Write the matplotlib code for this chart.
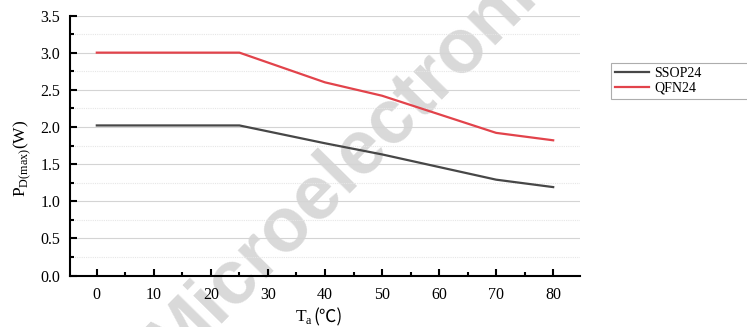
import matplotlib
matplotlib.use("Agg")
import matplotlib.pyplot as plt
from matplotlib.ticker import MultipleLocator, FuncFormatter

temps = [0, 25, 40, 50, 60, 70, 80]
ssop24 = [2.02, 2.02, 1.78, 1.63, 1.46, 1.29, 1.19]
qfn24 = [3.00, 3.00, 2.60, 2.42, 2.17, 1.92, 1.82]
series_names = ["SSOP24", "QFN24"]

plt.rcParams['font.family'] = ['Liberation Serif', 'DejaVu Serif', 'Noto Sans CJK SC']
plt.rcParams['mathtext.fontset'] = 'custom'
plt.rcParams['mathtext.rm'] = 'Liberation Serif'

fig = plt.figure(figsize=(7.47, 3.27), dpi=100)
ax = fig.add_axes([70/747, 1-275.5/327, (580-70)/747, (275.5-15.5)/327])
ax.set_facecolor('none')

ax.plot(temps, ssop24, color='#474747', lw=1.6, label=series_names[0], zorder=3)
ax.plot(temps, qfn24, color='#e2434b', lw=1.6, label=series_names[1], zorder=3)

ax.set_xlim(-4.7, 84.7)
ax.set_ylim(0, 3.5)
ax.xaxis.set_major_locator(MultipleLocator(10))
ax.xaxis.set_minor_locator(MultipleLocator(5))
ax.yaxis.set_major_locator(MultipleLocator(0.5))
ax.yaxis.set_minor_locator(MultipleLocator(0.25))
ax.yaxis.set_major_formatter(FuncFormatter(lambda v, p: f"{v:.1f}"))

ax.grid(axis='y', which='major', color='#d4d4d4', lw=0.8, ls='-', zorder=0)
ax.grid(axis='y', which='minor', color='#e6e6e6', lw=0.8, ls=(0, (1, 1)), zorder=0)

for s in ['top', 'right']:
    ax.spines[s].set_visible(False)
for s in ['left', 'bottom']:
    ax.spines[s].set_linewidth(1.5)
ax.tick_params(which='major', direction='in', length=5, width=1.5, labelsize=11.5)
ax.tick_params(axis='x', which='major', pad=8)
ax.tick_params(axis='y', which='major', pad=7)
ax.tick_params(which='minor', direction='in', length=3, width=1.5)

# x label: T_a(℃) drawn as two pieces so the ℃ glyph can use a font that has it
xsplit = (313 - 70) / 510
ax.text(xsplit, -0.125, r"T$_\mathrm{a}$", transform=ax.transAxes, ha='right', va='top', fontsize=12.5)
ax.text(xsplit, -0.125, "(℃)", transform=ax.transAxes, ha='left', va='top', fontsize=12.5,
        family=['Noto Sans CJK SC', 'DejaVu Sans'])

ax.set_ylabel(r"P$_\mathrm{D(max)}$(W)", fontsize=12.5)
ax.yaxis.set_label_coords(-0.072, 0.45)

leg = fig.legend(loc='upper left', bbox_to_anchor=(611/747, 1-101/327, 140/747, 38/327),
                 mode='expand', fontsize=10,
                 frameon=True, fancybox=False, edgecolor='#999999', borderpad=0.3,
                 handlelength=2.4, handletextpad=0.4, labelspacing=0.12, borderaxespad=0)
leg.get_frame().set_linewidth(0.8)

fig.text(386/747, 1-152/327, "Microelectronics", rotation=45.5, rotation_mode='anchor',
         ha='center', va='baseline', fontsize=55, fontweight='bold',
         family='Liberation Sans', color='#d9d9d9', zorder=-1)

fig.savefig("out.png", dpi=100)
